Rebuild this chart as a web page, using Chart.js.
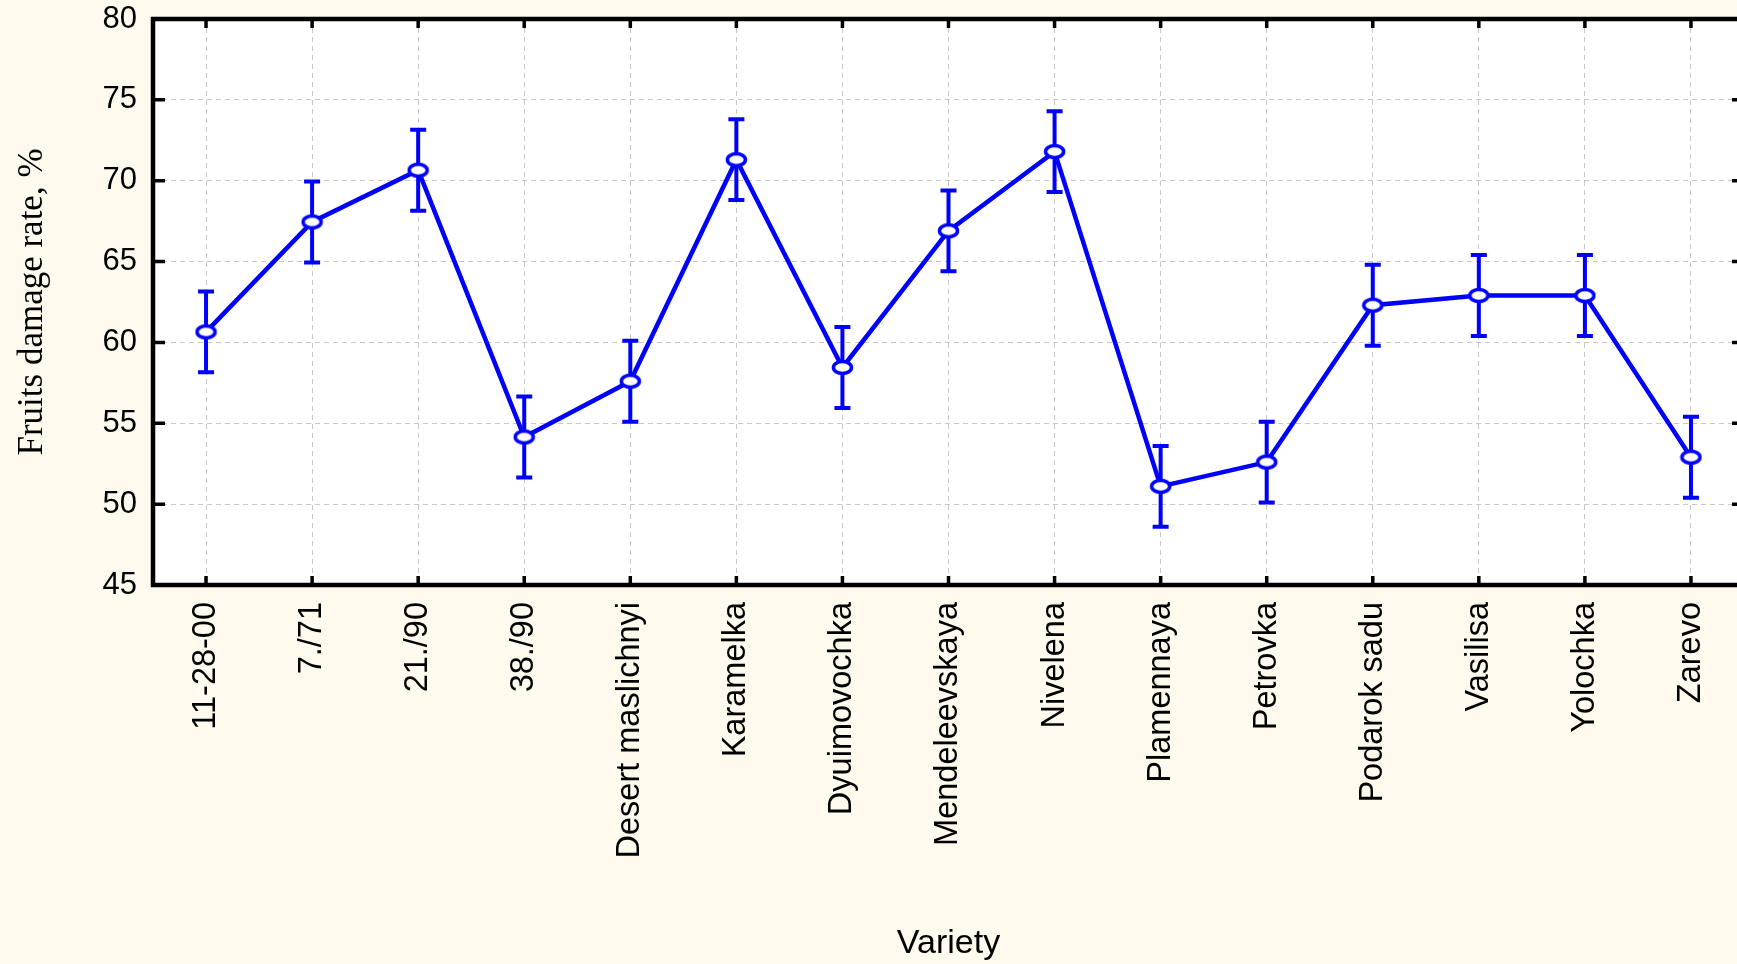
<!DOCTYPE html>
<html>
<head>
<meta charset="utf-8">
<script src="https://cdn.jsdelivr.net/npm/chart.js@4.4.1/dist/chart.umd.min.js"></script>
<style>
    html, body { margin: 0; padding: 0; background: #FFF9EE; overflow: hidden; }
    #wrap { position: absolute; left: 0; top: 0; width: 1760px; height: 964px; }
</style>
</head>
<body>
<div id="wrap"><canvas id="chart" width="1760" height="964"></canvas></div>
<script>
// valores (media ± error)
const VARIETIES = ['11-28-00', '7./71', '21./90', '38./90', 'Desert maslichnyi', 'Karamelka', 'Dyuimovochka',
    'Mendeleevskaya', 'Nivelena', 'Plamennaya', 'Petrovka', 'Podarok sadu', 'Vasilisa', 'Yolochka', 'Zarevo'];
const DAMAGE = [60.65, 67.45, 70.65, 54.15, 57.6, 71.3, 58.45, 66.9, 71.8, 51.1, 52.6, 62.3, 62.9, 62.9, 52.9];
const ERRORS = [2.5, 2.5, 2.5, 2.5, 2.5, 2.5, 2.5, 2.5, 2.5, 2.5, 2.5, 2.5, 2.5, 2.5, 2.5];
const Y_MIN = 45;
const Y_MAX = 80;
const Y_STEP = 5;

const BLUE = '#0000FF';
const CREAM = '#FFF9EE';
const GRID = '#C8C8C8';

// marcador eliptico blanco con borde azul
function makeMarker() {
    const c = document.createElement('canvas');
    c.width = 23;
    c.height = 17;
    const ctx = c.getContext('2d');
    ctx.beginPath();
    ctx.ellipse(11.5, 8.5, 9, 6, 0, 0, Math.PI * 2);
    ctx.fillStyle = '#fff';
    ctx.fill();
    ctx.lineWidth = 3.5;
    ctx.strokeStyle = BLUE;
    ctx.stroke();
    return c;
}

const errorBars = {
    id: 'errorBars',
    beforeDatasetsDraw(chart) {
        const { ctx } = chart;
        const y = chart.scales.y;
        const meta = chart.getDatasetMeta(0);
        ctx.save();
        ctx.strokeStyle = BLUE;
        ctx.lineWidth = 4;
        meta.data.forEach((pt, i) => {
            const top = y.getPixelForValue(DAMAGE[i] + ERRORS[i]);
            const bot = y.getPixelForValue(DAMAGE[i] - ERRORS[i]);
            ctx.beginPath();
            ctx.moveTo(pt.x, top);
            ctx.lineTo(pt.x, bot);
            ctx.moveTo(pt.x - 8, top);
            ctx.lineTo(pt.x + 8, top);
            ctx.moveTo(pt.x - 8, bot);
            ctx.lineTo(pt.x + 8, bot);
            ctx.stroke();
        });
        ctx.restore();
    },
};

const plotFrame = {
    id: 'plotFrame',
    beforeDraw(chart) {
        const { ctx, chartArea: a } = chart;
        ctx.save();
        ctx.fillStyle = CREAM;
        ctx.fillRect(0, 0, chart.width, chart.height);
        ctx.fillStyle = '#fff';
        ctx.fillRect(a.left, a.top, a.right - a.left, a.bottom - a.top);
        ctx.restore();
    },
    afterDraw(chart) {
        const { ctx, chartArea: a } = chart;
        const { x, y } = chart.scales;
        ctx.save();
        ctx.strokeStyle = '#000';
        ctx.lineWidth = 3.5;
        x.ticks.forEach((t, i) => {
            const px = x.getPixelForTick(i);
            ctx.beginPath();
            ctx.moveTo(px, a.bottom);
            ctx.lineTo(px, a.bottom - 9);
            ctx.moveTo(px, a.top);
            ctx.lineTo(px, a.top + 9);
            ctx.stroke();
        });
        y.ticks.forEach((t, i) => {
            const py = y.getPixelForTick(i);
            ctx.beginPath();
            ctx.moveTo(a.left, py);
            ctx.lineTo(a.left + 12, py);
            ctx.moveTo(a.right, py);
            ctx.lineTo(a.right - 12, py);
            ctx.stroke();
        });
        ctx.lineWidth = 4.5;
        ctx.strokeRect(a.left, a.top, a.right - a.left, a.bottom - a.top);
        ctx.restore();
    },
};

new Chart(document.getElementById('chart'), {
    type: 'line',
    data: {
        labels: VARIETIES,
        datasets: [{
            data: DAMAGE,
            borderColor: BLUE,
            borderWidth: 4.5,
            tension: 0,
            pointStyle: makeMarker(),
            pointRadius: 9,
        }],
    },
    options: {
        responsive: false,
        animation: false,
        layout: { padding: { top: 19, right: 16, left: 0, bottom: 0 } },
        plugins: { legend: { display: false }, tooltip: { enabled: false } },
        scales: {
            x: {
                offset: true,
                grid: { color: GRID, lineWidth: 1, drawTicks: false, offset: false },
                border: { display: false, dash: [5, 4] },
                ticks: {
                    autoSkip: false,
                    maxRotation: 90,
                    minRotation: 90,
                    padding: 17,
                    color: '#000',
                    font: { family: 'Liberation Sans', size: 32.5 },
                },
                title: {
                    display: true,
                    text: 'Variety',
                    color: '#000',
                    padding: 0,
                    font: { family: 'Liberation Sans', size: 34 },
                },
                afterFit: (s) => {
                    s.height = 379;
                    s.paddingLeft = 0;
                    s.paddingRight = 0;
                },
            },
            y: {
                min: Y_MIN,
                max: Y_MAX,
                grid: { color: GRID, lineWidth: 1, drawTicks: false },
                border: { display: false, dash: [5, 4] },
                ticks: {
                    stepSize: Y_STEP,
                    padding: 16,
                    color: '#000',
                    font: { family: 'Liberation Sans', size: 31 },
                },
                title: {
                    display: true,
                    text: 'Fruits damage rate, %',
                    color: '#000',
                    padding: { top: 12, bottom: 0 },
                    font: { family: 'Liberation Serif', size: 35 },
                },
                afterFit: (s) => {
                    s.width = 153;
                    s.paddingTop = 0;
                    s.paddingBottom = 0;
                },
            },
        },
    },
    plugins: [plotFrame, errorBars],
});
</script>
</body>
</html>
